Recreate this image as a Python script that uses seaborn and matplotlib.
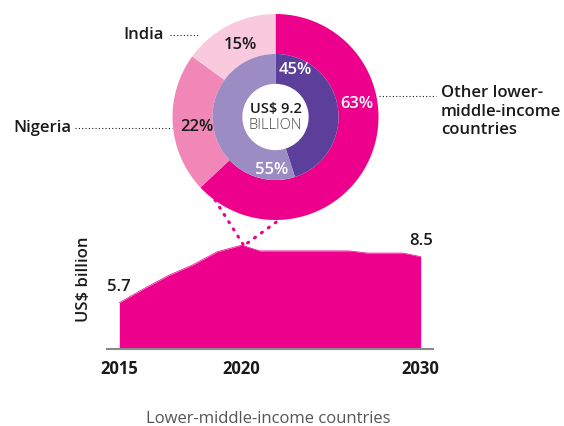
import numpy as np
import matplotlib
matplotlib.use("Agg")
import matplotlib.pyplot as plt
import seaborn as sns

# --- data ------------------------------------------------------------
years = [2015, 2016, 2017, 2018, 2019, 2020, 2021, 2022,
         2023, 2024, 2025, 2026, 2027, 2028, 2029, 2030]
funding = [5.7, 6.55, 7.35, 8.0, 8.8, 9.2, 8.85, 8.85,
           8.85, 8.85, 8.85, 8.85, 8.72, 8.72, 8.72, 8.5]
tick_years = [2015, 2020, 2030]

outer_names = ["Other lower-\nmiddle-income\ncountries", "Nigeria", "India"]
outer_share = [63, 22, 15]
inner_share = [45, 55]
total_label = "US$ 9.2"

# --- style -----------------------------------------------------------
MAGENTA = "#EC008C"
outer_colors = [MAGENTA, "#F087B7", "#F9CADD"]
inner_colors = ["#5B3F9A", "#9B8CC4"]
DARK = "#1a1a1a"
FS = 12

sns.set_theme(style="white")
plt.rcParams["font.family"] = ["Open Sans", "DejaVu Sans"]

W, H = 564, 426
fig = plt.figure(figsize=(W / 100, H / 100), dpi=100)

# --- area chart ------------------------------------------------------
ax = fig.add_axes([107 / W, (H - 349) / H, 326 / W, 117 / H])

# piecewise x scale (the original axis is not linear)
yr_pts = [2000, 2015, 2020, 2030, 2045]
px_pts = [119.3 - 15 * 24.48, 119.3, 241.7, 420.7, 420.7 + 15 * 17.9]
fwd = lambda x: np.interp(x, yr_pts, px_pts)
inv = lambda p: np.interp(p, px_pts, yr_pts)
ax.set_xscale("function", functions=(fwd, inv))

sns.lineplot(x=years, y=funding, ax=ax, color=MAGENTA, lw=0.5)
ax.fill_between(years, funding, 0, color=MAGENTA, lw=0)
ax.set_xlim(inv(107), inv(433))
ax.set_ylim(2.88, 10.0)
ax.set_xticks(tick_years)
ax.set_xticklabels([str(y) for y in tick_years], fontsize=FS,
                   fontweight="bold", color=DARK)
ax.set_yticks([])
ax.tick_params(axis="x", length=0, pad=8)
for s in ["left", "right", "top"]:
    ax.spines[s].set_visible(False)
ax.spines["bottom"].set_color("#8a8a8a")
ax.spines["bottom"].set_linewidth(1.5)
ax.set_ylabel("US$ billion", fontsize=FS, fontweight="semibold", color=DARK)
ax.yaxis.set_label_coords(-0.045, 0.594)

ax.annotate(f"{funding[0]}", (years[0], funding[0]), xytext=(0, 11),
            textcoords="offset points", ha="center", va="center",
            fontsize=FS, fontweight="semibold", color=DARK)
ax.annotate(f"{funding[-1]}", (years[-1], funding[-1]), xytext=(0, 11),
            textcoords="offset points", ha="center", va="center",
            fontsize=FS, fontweight="semibold", color=DARK)

# --- donut -----------------------------------------------------------
dx = fig.add_axes([172.5 / W, (H - 220) / H, 206 / W, 206 / H])
dx.pie(outer_share, colors=outer_colors, radius=1.0, startangle=90,
       counterclock=False, wedgeprops=dict(width=0.388, lw=0))
dx.pie(inner_share, colors=inner_colors, radius=0.612, startangle=90,
       counterclock=False, wedgeprops=dict(width=0.29, lw=0))
dx.set_xlim(-1, 1)
dx.set_ylim(-1, 1)
dx.set_aspect("equal")
dx.axis("off")

outer_pos = [(0.79, 0.126), (-0.765, -0.10), (-0.345, 0.70)]
outer_txt = ["white", DARK, DARK]
for v, (x, y), c in zip(outer_share, outer_pos, outer_txt):
    dx.text(x, y, f"{v}%", ha="center", va="center", fontsize=FS,
            fontweight="semibold", color=c)
inner_pos = [(0.19, 0.456), (-0.037, -0.515)]
for v, (x, y) in zip(inner_share, inner_pos):
    dx.text(x, y, f"{v}%", ha="center", va="center", fontsize=FS,
            fontweight="semibold", color="white")
dx.text(0, 0.08, total_label, ha="center", va="center", fontsize=10.5,
        fontweight="semibold", color=DARK)
dx.text(0, -0.085, "BILLION", ha="center", va="center", fontsize=10.5,
        fontweight="light", color="#444444")

# --- overlay: leaders and titles --------------------------------------
ov = fig.add_axes([0, 0, 1, 1], zorder=10)
ov.set_xlim(0, W)
ov.set_ylim(H, 0)
ov.axis("off")
ov.patch.set_alpha(0)

dots = dict(color=DARK, lw=0.8, linestyle=(0, (1, 2)))
ov.plot([170, 198], [35, 35], **dots)
ov.plot([75, 172], [128, 128], **dots)
ov.plot([379, 436], [96, 96], **dots)

mag = dict(color=MAGENTA, lw=2.2, linestyle=(0, (0.4, 2.4)),
           dash_capstyle="round")
ov.plot([215, 246], [200, 249], **mag)
ov.plot([290, 238], [212, 250], **mag)

ov.text(164, 35, outer_names[2], ha="right", va="center", fontsize=FS,
        fontweight="semibold", color=DARK)
ov.text(71, 128, outer_names[1], ha="right", va="center", fontsize=FS,
        fontweight="semibold", color=DARK)
ov.text(441, 85, outer_names[0], ha="left", va="top", fontsize=FS,
        fontweight="semibold", color=DARK, linespacing=1.22)

ov.text(268, 423, "Lower-middle-income countries",
        ha="center", va="baseline", fontsize=FS, color="#555555")

fig.savefig("out.png", dpi=100, facecolor="white")
